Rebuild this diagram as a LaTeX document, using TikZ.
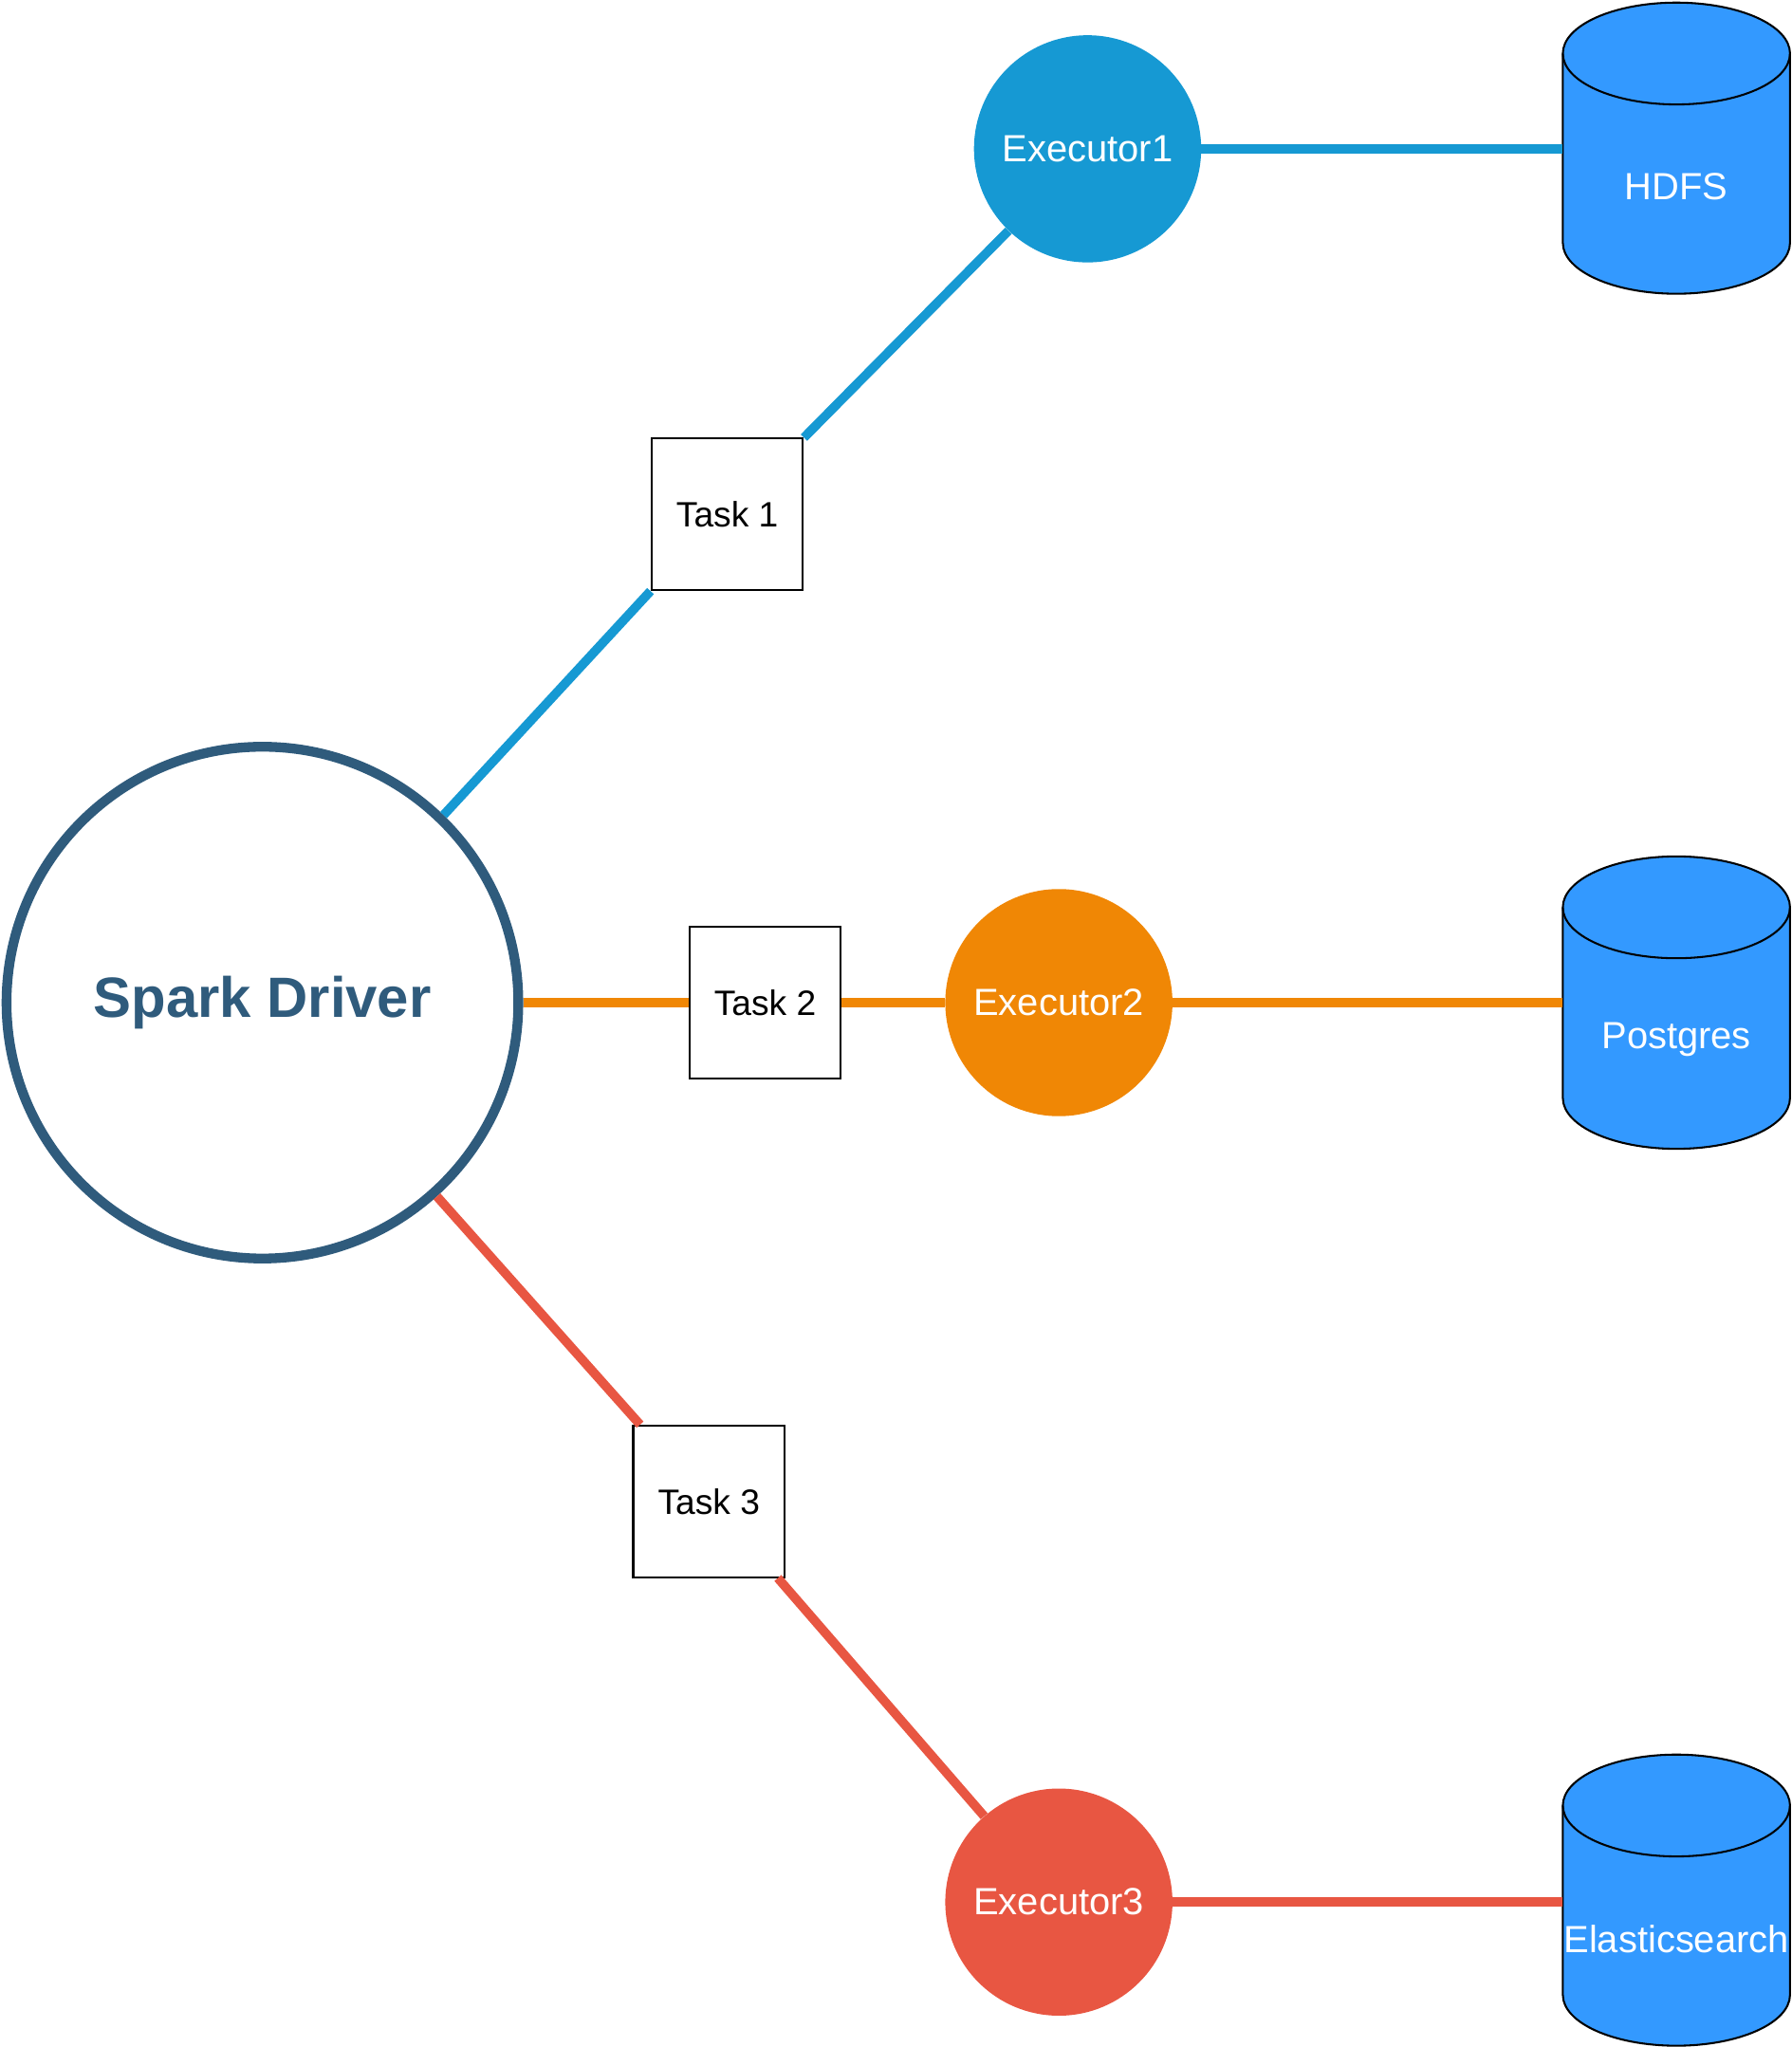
\documentclass[tikz,border=0pt]{standalone}
\usepackage{fontspec}
\setmainfont{Liberation Sans}
\definecolor{drvcol}{HTML}{2F5B7C}
\definecolor{cblue}{HTML}{1699D3}
\definecolor{corange}{HTML}{F08705}
\definecolor{cred}{HTML}{E85642}
\definecolor{cylcol}{HTML}{3399FF}
\newcommand{\dbcyl}[2]{%
  \filldraw[fill=cylcol, draw=black, line width=1.5pt]
    (1197,{#1+39}) -- (1197,{#2-39})
    arc[start angle=180, end angle=0, x radius=87, y radius=39]
    -- (1371,{#1+39})
    arc[start angle=0, end angle=-180, x radius=87, y radius=39] -- cycle;
  \draw[line width=1.5pt] (1197,{#1+39})
    arc[start angle=180, end angle=0, x radius=87, y radius=39];}
\tikzset{
  driver/.style={circle, draw=drvcol, line width=7.5pt, minimum size=392pt, inner sep=0pt,
    text=drvcol, font=\fontsize{43.5}{52}\selectfont\bfseries},
  exec/.style={circle, minimum size=174pt, inner sep=0pt, text=white,
    font=\fontsize{29}{35}\selectfont},
  taskbox/.style={rectangle, draw=black, line width=1.5pt, minimum size=116pt, inner sep=0pt,
    fill=white, font=\fontsize{27}{32}\selectfont},
  dbbox/.style={rectangle, minimum width=174pt, inner sep=0pt},
  dbtext/.style={text=white, inner sep=0pt, font=\fontsize{29}{35}\selectfont},
  conn/.style={line width=7pt}
}
\begin{document}
\begin{tikzpicture}[x=1pt, y=-1pt]
\useasboundingbox (0,0) rectangle (1372,1568);
% databases
\dbcyl{2}{225}
\dbcyl{656}{880}
\dbcyl{1344}{1567}
\node[dbbox, minimum height=223pt] (db1) at (1284,113.5) {};
\node[dbbox, minimum height=224pt] (db2) at (1284,768) {};
\node[dbbox, minimum height=223pt] (db3) at (1284,1455.5) {};
\node[dbtext] (db1t) at (1284,143) {HDFS};
\node[dbtext] (db2t) at (1284,796) {Postgres};
\node[dbtext] (db3t) at (1284,1485) {Elasticsearch};
% nodes
\node[driver] (drv) at (201,768) {Spark Driver};
\node[exec, fill=cblue] (e1) at (833,114) {Executor1};
\node[exec, fill=corange] (e2) at (811,768) {Executor2};
\node[exec, fill=cred] (e3) at (811,1457) {Executor3};
\node[taskbox] (t1) at (557,394) {Task 1};
\node[taskbox] (t2) at (586,768) {Task 2};
\node[taskbox] (t3) at (543,1150) {Task 3};
% connectors
\draw[conn, cblue] (drv.46) -- (t1.south west);
\draw[conn, cblue] (t1.north east) -- (e1.226);
\draw[conn, cblue] (e1.east) -- (e1.east -| db1.west);
\draw[conn, corange] (drv.east) -- (t2.west);
\draw[conn, corange] (t2.east) -- (e2.west);
\draw[conn, corange] (e2.east) -- (e2.east -| db2.west);
\draw[conn, cred] (drv.312) -- ([xshift=6pt]t3.north west);
\draw[conn, cred] ([xshift=-6pt]t3.south east) -- (e3.131);
\draw[conn, cred] (e3.east) -- (e3.east -| db3.west);
\end{tikzpicture}
\end{document}
